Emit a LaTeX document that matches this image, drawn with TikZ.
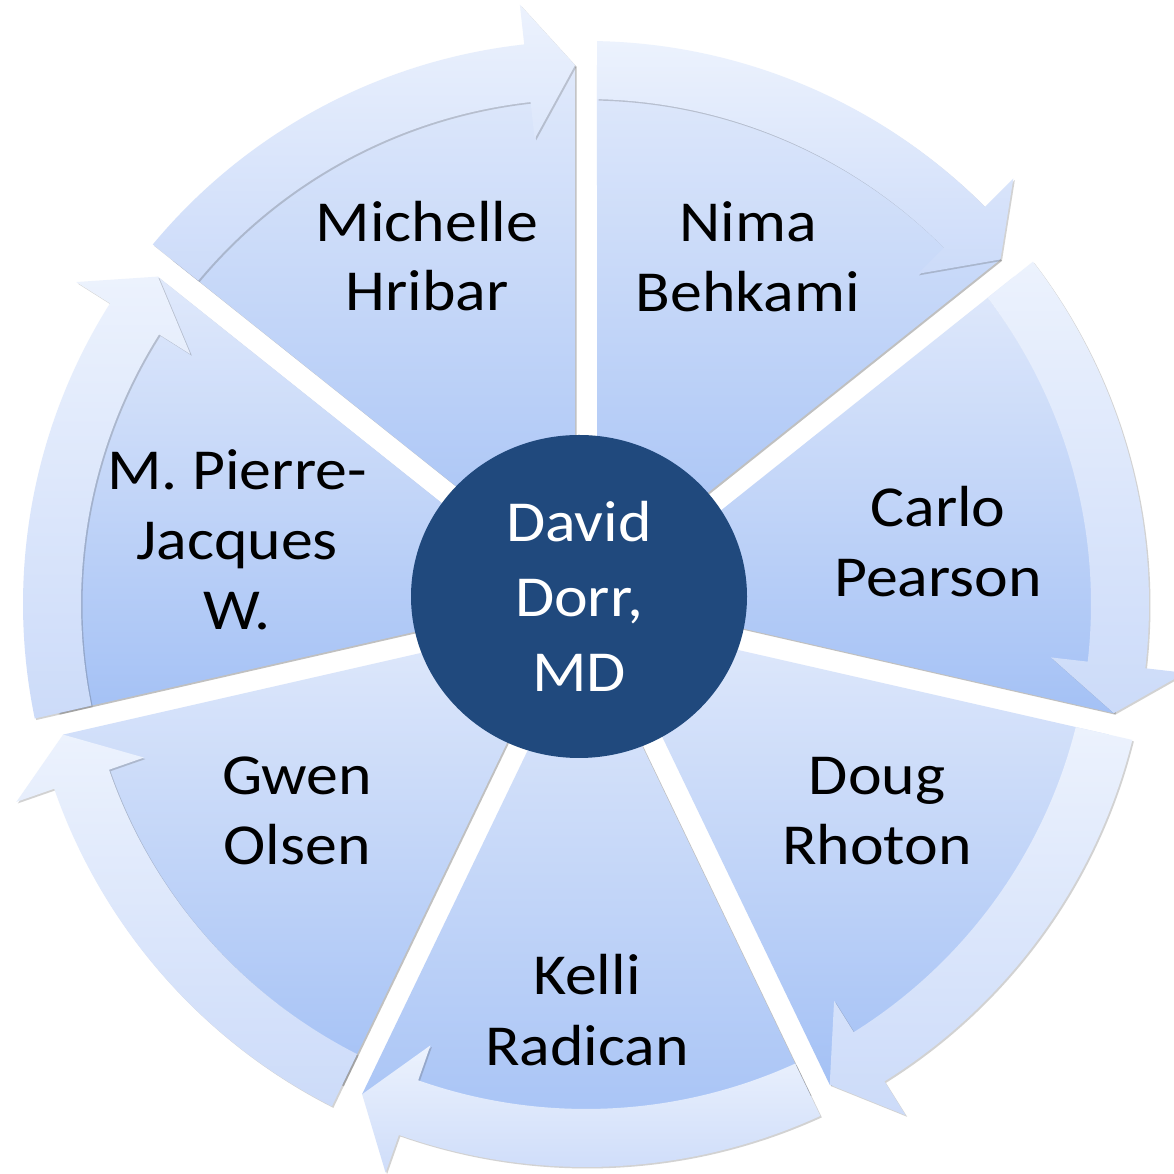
\documentclass[tikz,border=0pt]{standalone}
\usepackage{fontspec}
\setmainfont{Carlito}
\usetikzlibrary{shadows,shapes.geometric}
\definecolor{wedgetop}{RGB}{224,233,251}
\definecolor{wedgebot}{RGB}{164,193,245}
\definecolor{bandtop}{RGB}{236,242,253}
\definecolor{bandbot}{RGB}{204,219,249}
\definecolor{centerblue}{RGB}{32,73,125}
\tikzset{
  wedgebody/.style={top color=wedgetop, bottom color=wedgebot,
    drop shadow={shadow xshift=1.5pt, shadow yshift=-1.5pt, opacity=0.35, fill=black!70}},
  bandarrow/.style={top color=bandtop, bottom color=bandbot,
    drop shadow={shadow xshift=1.5pt, shadow yshift=-1.5pt, opacity=0.25, fill=black!70}},
  lab/.style={font=\fontsize{58}{69}\selectfont, anchor=base, inner sep=0pt, text=black, xscale=1.1},
  wlab/.style={lab, text=white}
}
\begin{document}
\begin{tikzpicture}[x=1pt,y=1pt]
\useasboundingbox (0,0) rectangle (1173,1174);
\fill[white] (0,0) rectangle (1173,1174);
\begin{scope}[shift={(586pt,570pt)}]
  \foreach \k in {0,...,6}{
    \pgfmathsetmacro\aA{141.428571-51.428571*\k}
    \pgfmathsetmacro\aB{\aA-51.428571}
    \pgfmathsetmacro\aM{\aA-25.714286}
    \pgfmathsetmacro\wS{\aA-1.169}
    \pgfmathsetmacro\wE{\aB+1.169}
    \path[wedgebody] (\aM:25.35pt) -- (\wS:539pt) arc[start angle=\wS, end angle=\wE, radius=539pt] -- cycle;
  }
  \foreach \k in {0,...,6}{
    \pgfmathsetmacro\aA{141.428571-51.428571*\k}
    \pgfmathsetmacro\aB{\aA-51.428571}
    \pgfmathsetmacro\wE{\aB+1.169}
    \pgfmathsetmacro\oS{\aA-1.12}
    \pgfmathsetmacro\iS{\aA-1.248}
    \pgfmathsetmacro\hB{\aB+6.3}
    \path[bandarrow] (\iS:505pt) -- (\oS:563pt) arc[start angle=\oS, end angle=\hB, radius=563pt]
      -- (\hB:603pt) -- (\wE:539pt) -- (\hB:468pt) -- (\hB:505pt)
      arc[start angle=\hB, end angle=\iS, radius=505pt] -- cycle;
  }
\end{scope}
\node[ellipse, fill=centerblue, minimum width=336pt, minimum height=323pt, inner sep=0pt] (center) at (579,577.5) {};
\node[wlab] (david1) at (579,632) {David};
\node[wlab] (david2) at (579,557) {Dorr,};
\node[wlab] (david3) at (579,482) {MD};
\node[lab] (mich1) at (427,932) {Michelle};
\node[lab] (mich2) at (427,863) {Hribar};
\node[lab] (nima1) at (748,932) {Nima};
\node[lab] (nima2) at (748,862) {Behkami};
\node[lab] (carlo1) at (938,647) {Carlo};
\node[lab] (carlo2) at (938,577) {Pearson};
\node[lab] (doug1) at (877,379) {Doug};
\node[lab] (doug2) at (877,309) {Rhoton};
\node[lab] (kelli1) at (587,179) {Kelli};
\node[lab] (kelli2) at (587,108) {Radican};
\node[lab] (gwen1) at (297,379) {Gwen};
\node[lab] (gwen2) at (297,309) {Olsen};
\node[lab] (pierre1) at (237,684) {M. Pierre-};
\node[lab] (pierre2) at (237,614) {Jacques};
\node[lab] (pierre3) at (237,544) {W.};
\end{tikzpicture}
\end{document}
